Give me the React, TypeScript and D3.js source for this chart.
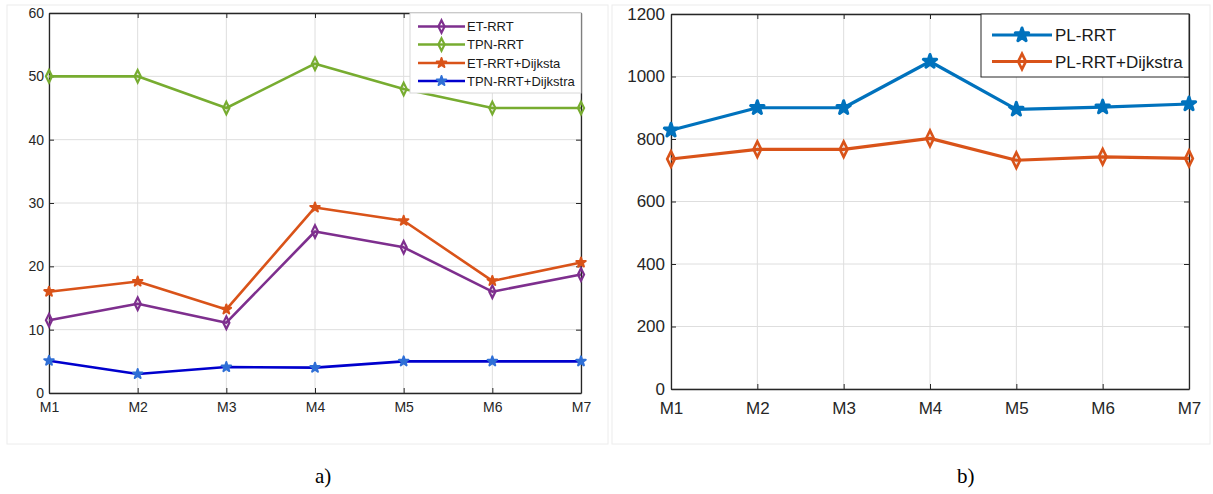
import * as d3 from "d3";
import { useEffect, useRef } from "react";

const months = ["M1", "M2", "M3", "M4", "M5", "M6", "M7"];

// panel a)
const etRrt = [11.5, 14.1, 11.1, 25.5, 23, 16, 18.7];
const tpnRrt = [50, 50, 45, 52, 48, 45, 45];
const etRrtDijk = [16, 17.6, 13.2, 29.3, 27.2, 17.7, 20.6];
const tpnRrtDijk = [5.1, 3, 4.1, 4, 5, 5, 5];
const ticksA = [0, 10, 20, 30, 40, 50, 60];

// panel b)
const plRrt = [828, 900, 900, 1048, 895, 902, 912];
const plRrtDijk = [736, 767, 767, 802, 732, 743, 738];
const ticksB = [0, 200, 400, 600, 800, 1000, 1200];

interface Series {
    name: string;
    values: number[];
    line: string;
    marker: string;
    shape: "diamond" | "star";
    width: number;
}

interface PanelCfg {
    x0: number;
    x1: number;
    yTop: number;
    yBottom: number;
    max: number;
    ticks: number[];
    series: Series[];
    tickFont: number;
    labelFont: number;
    yPad: number;
    xPad: number;
    legend: { x: number; y: number; w: number; h: number; rows: number[]; l0: number; l1: number; tx: number; font: number; border: string };
}

function drawPanel(g: d3.Selection<SVGGElement, unknown, null, undefined>, cfg: PanelCfg) {
    const x = d3.scalePoint<string>().domain(months).range([cfg.x0, cfg.x1]);
    const y = d3.scaleLinear().domain([0, cfg.max]).range([cfg.yBottom, cfg.yTop]);
    const h = cfg.yBottom - cfg.yTop;
    const w = cfg.x1 - cfg.x0;

    g.append("rect")
        .attr("x", cfg.x0).attr("y", cfg.yTop)
        .attr("width", w).attr("height", h)
        .attr("fill", "#fff");

    // grid
    const grid = g.append("g").attr("stroke", "#dedede").attr("stroke-width", 1);
    months.forEach((m) => {
        grid.append("line")
            .attr("x1", x(m)!).attr("x2", x(m)!)
            .attr("y1", cfg.yTop).attr("y2", cfg.yBottom);
    });
    cfg.ticks.forEach((t) => {
        grid.append("line")
            .attr("x1", cfg.x0).attr("x2", cfg.x1)
            .attr("y1", y(t)).attr("y2", y(t));
    });

    const styleAxis = (a: d3.Selection<SVGGElement, unknown, null, undefined>) => {
        a.select(".domain").attr("stroke", "#262626").attr("stroke-width", 1.3);
        a.selectAll(".tick line").attr("stroke", "#262626");
        a.selectAll("text").attr("fill", "#262626").attr("font-family", "Arial, 'Liberation Sans', sans-serif");
    };

    const left = g.append("g").attr("transform", `translate(${cfg.x0},0)`)
        .call(d3.axisLeft(y).tickValues(cfg.ticks).tickFormat(d3.format("d")).tickSizeInner(-5).tickSizeOuter(0).tickPadding(cfg.yPad));
    styleAxis(left);
    left.selectAll("text").attr("font-size", cfg.tickFont);

    const right = g.append("g").attr("transform", `translate(${cfg.x1},0)`)
        .call(d3.axisRight(y).tickValues(cfg.ticks).tickSizeInner(-5).tickSizeOuter(0).tickFormat(() => ""));
    styleAxis(right);

    const bottom = g.append("g").attr("transform", `translate(0,${cfg.yBottom})`)
        .call(d3.axisBottom(x).tickSizeInner(-5).tickSizeOuter(0).tickPadding(cfg.xPad));
    styleAxis(bottom);
    bottom.selectAll("text").attr("font-size", cfg.labelFont);

    const top = g.append("g").attr("transform", `translate(0,${cfg.yTop})`)
        .call(d3.axisTop(x).tickSizeInner(-5).tickSizeOuter(0).tickFormat(() => ""));
    styleAxis(top);

    const line = d3.line<number>()
        .x((_, i) => x(months[i])!)
        .y((d) => y(d));

    const marker = (sel: d3.Selection<SVGGElement, unknown, null, undefined>, s: Series, cx: number, cy: number) => {
        const big = s.width > 2.8;
        if (s.shape === "diamond") {
            sel.append("path")
                .attr("d", d3.symbol(d3.symbolDiamond, big ? 70 : 45)())
                .attr("transform", `translate(${cx},${cy}) scale(0.85,1)`)
                .attr("fill", "none")
                .attr("stroke", s.marker)
                .attr("stroke-width", big ? 3 : 2.5);
        } else {
            sel.append("path")
                .attr("d", d3.symbol(d3.symbolStar, big ? 55 : 28)())
                .attr("transform", `translate(${cx},${cy})`)
                .attr("fill", s.marker)
                .attr("stroke", s.marker)
                .attr("stroke-width", big ? 3 : 2)
                .attr("stroke-linejoin", "round");
        }
    };

    cfg.series.forEach((s) => {
        g.append("path")
            .datum(s.values)
            .attr("fill", "none")
            .attr("stroke", s.line)
            .attr("stroke-width", s.width)
            .attr("stroke-linejoin", "round")
            .attr("d", line);
        const mg = g.append("g");
        s.values.forEach((v, i) => marker(mg, s, x(months[i])!, y(v)));
    });

    // legend
    const L = cfg.legend;
    const lg = g.append("g");
    lg.append("rect")
        .attr("x", L.x).attr("y", L.y).attr("width", L.w).attr("height", L.h)
        .attr("fill", "#fff").attr("stroke", L.border).attr("stroke-width", 1);
    cfg.series.forEach((s, i) => {
        const ry = L.rows[i];
        lg.append("line")
            .attr("x1", L.l0).attr("x2", L.l1).attr("y1", ry).attr("y2", ry)
            .attr("stroke", s.line).attr("stroke-width", s.width);
        marker(lg, s, (L.l0 + L.l1) / 2, ry);
        lg.append("text")
            .attr("x", L.tx).attr("y", ry)
            .attr("dy", "0.36em")
            .attr("font-size", L.font)
            .attr("font-family", "Arial, 'Liberation Sans', sans-serif")
            .attr("fill", "#1a1a1a")
            .text(s.name);
    });
}

export default function App() {
    const svgRef = useRef<SVGSVGElement | null>(null);

    useEffect(() => {
        if (!svgRef.current) return;
        const svg = d3.select(svgRef.current);
        svg.selectAll("*").remove();

        svg.append("rect").attr("width", 1213).attr("height", 494).attr("fill", "#fff");

        // panel frames
        svg.append("rect").attr("x", 7).attr("y", 5).attr("width", 601).attr("height", 439)
            .attr("fill", "#fff").attr("stroke", "#ececec");
        svg.append("rect").attr("x", 612).attr("y", 5).attr("width", 598).attr("height", 439)
            .attr("fill", "#fff").attr("stroke", "#ececec");

        drawPanel(svg.append("g"), {
            x0: 49, x1: 581, yTop: 13, yBottom: 393, max: 60, ticks: ticksA,
            tickFont: 14, labelFont: 14, yPad: 5, xPad: 9,
            series: [
                { name: "ET-RRT", values: etRrt, line: "#7e2f8e", marker: "#7e2f8e", shape: "diamond", width: 2.6 },
                { name: "TPN-RRT", values: tpnRrt, line: "#77ac30", marker: "#77ac30", shape: "diamond", width: 2.6 },
                { name: "ET-RRT+Dijksta", values: etRrtDijk, line: "#d95319", marker: "#d95319", shape: "star", width: 2.6 },
                { name: "TPN-RRT+Dijkstra", values: tpnRrtDijk, line: "#0000cd", marker: "#2f6fd6", shape: "star", width: 2.6 },
            ],
            legend: { x: 410, y: 13, w: 171, h: 80, rows: [26.5, 44.5, 63, 81], l0: 418, l1: 465, tx: 467, font: 13, border: "#d8d8d8" },
        });

        drawPanel(svg.append("g"), {
            x0: 671, x1: 1189, yTop: 14, yBottom: 389, max: 1200, ticks: ticksB,
            tickFont: 17, labelFont: 17, yPad: 6, xPad: 13,
            series: [
                { name: "PL-RRT", values: plRrt, line: "#0072bd", marker: "#0072bd", shape: "star", width: 3.2 },
                { name: "PL-RRT+Dijkstra", values: plRrtDijk, line: "#d95319", marker: "#d95319", shape: "diamond", width: 3.2 },
            ],
            legend: { x: 981, y: 14, w: 208, h: 63, rows: [35, 61.5], l0: 992, l1: 1052, tx: 1055, font: 17, border: "#262626" },
        });

        // captions
        svg.append("text").attr("x", 315).attr("y", 483)
            .attr("font-family", "'Liberation Serif', 'Times New Roman', serif")
            .attr("font-size", 21).attr("fill", "#000").text("a)");
        svg.append("text").attr("x", 957).attr("y", 483)
            .attr("font-family", "'Liberation Serif', 'Times New Roman', serif")
            .attr("font-size", 21).attr("fill", "#000").text("b)");
    }, []);

    return (
        <svg ref={svgRef} width={1213} height={494} style={{ position: "absolute", left: 0, top: 0 }} />
    );
}
